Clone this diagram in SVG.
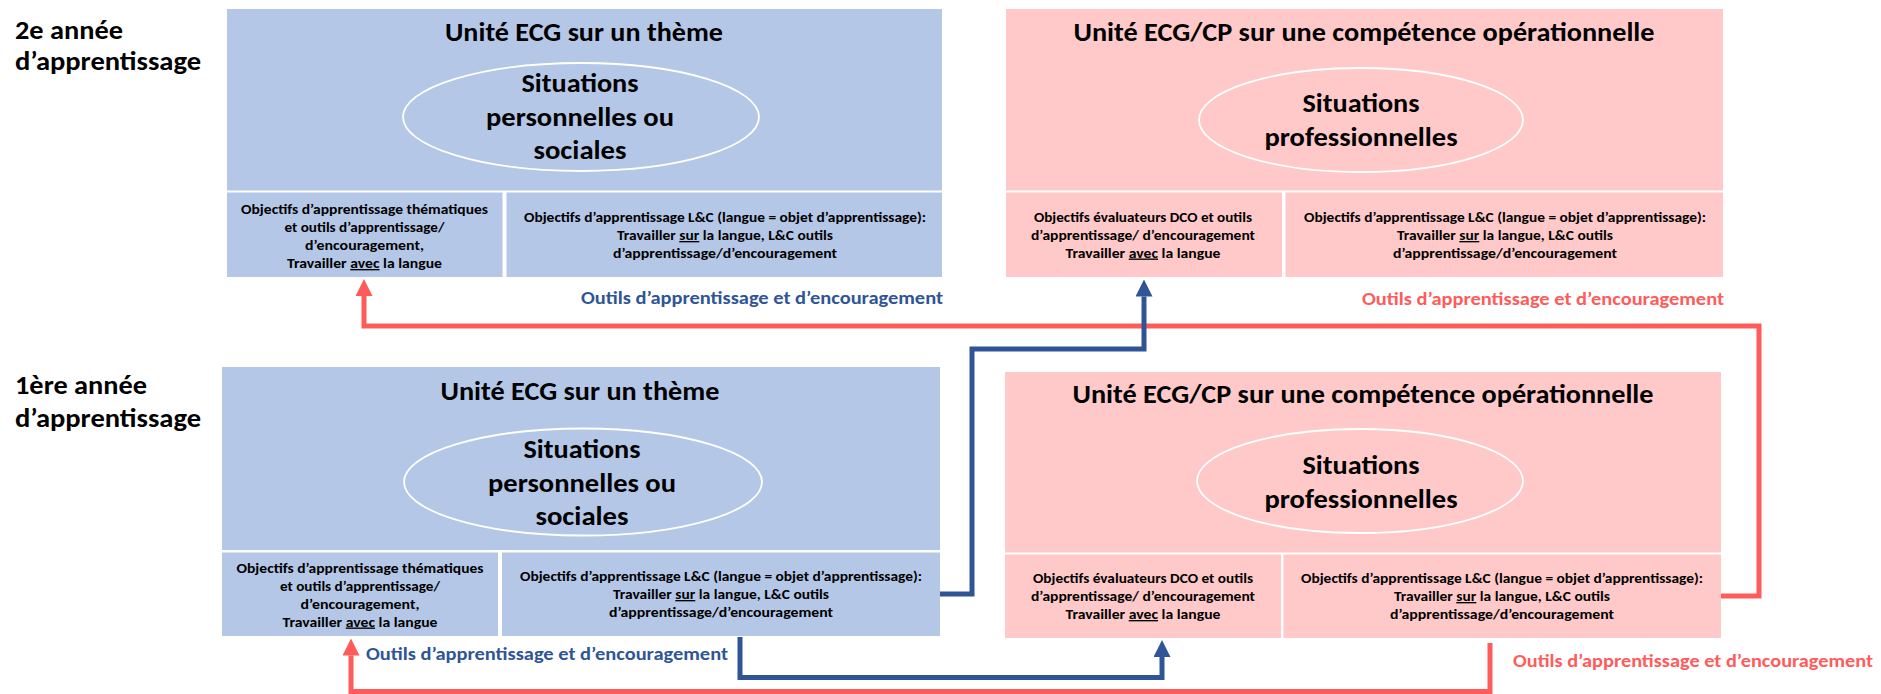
<svg xmlns="http://www.w3.org/2000/svg" width="1881" height="694" viewBox="0 0 1881 694">
<defs>
<style>
.t{font-family:Carlito,Lato,"Liberation Sans",sans-serif;font-weight:700;text-anchor:middle;fill:#000}
.big{font-size:26px}
.s{font-size:13.5px}
.side{font-size:26px;text-anchor:start}
.lab{font-size:18.5px;text-anchor:start}
.lb{fill:#2F5597}
.lr{fill:#FF5B5B}
.bf{fill:#B4C7E7}
.rf{fill:#FFC9C9}
.el{fill:none;stroke:#FFFFFF;stroke-width:1.8}
.u{text-decoration:underline}
.cb{fill:none;stroke:#2F5597;stroke-width:5;stroke-linejoin:miter}
.cr{fill:none;stroke:#FF5B5B;stroke-width:5;stroke-linejoin:miter}
</style>
<marker id="arrB" markerUnits="userSpaceOnUse" markerWidth="17" markerHeight="17" viewBox="0 0 17 17" refX="0" refY="8.5" orient="auto"><path d="M0,0 L17,8.5 L0,17 Z" fill="#2F5597"/></marker>
<marker id="arrR" markerUnits="userSpaceOnUse" markerWidth="17" markerHeight="17" viewBox="0 0 17 17" refX="0" refY="8.5" orient="auto"><path d="M0,0 L17,8.5 L0,17 Z" fill="#FF5B5B"/></marker>
</defs>
<rect width="1881" height="694" fill="#FFFFFF"/>

<g id="label-year2">
<text class="t side" x="15" y="39" textLength="108" lengthAdjust="spacingAndGlyphs">2e année</text>
<text class="t side" x="15" y="70" textLength="186" lengthAdjust="spacingAndGlyphs">d’apprentissage</text>
</g>
<g id="label-year1">
<text class="t side" x="15" y="394" textLength="132" lengthAdjust="spacingAndGlyphs">1ère année</text>
<text class="t side" x="15" y="427" textLength="186" lengthAdjust="spacingAndGlyphs">d’apprentissage</text>
</g>

<g id="unit-ecg-y2">
<rect class="bf" x="227" y="9" width="715" height="181.5"/>
<text class="t big" x="584" y="41" textLength="278" lengthAdjust="spacingAndGlyphs">Unité ECG sur un thème</text>
<ellipse class="el" cx="581" cy="117" rx="178" ry="54"/>
<text class="t big" x="580" y="91.5" textLength="117" lengthAdjust="spacingAndGlyphs">Situations</text>
<text class="t big" x="580" y="125.5" textLength="188" lengthAdjust="spacingAndGlyphs">personnelles ou</text>
<text class="t big" x="580" y="159" textLength="93" lengthAdjust="spacingAndGlyphs">sociales</text>
<rect class="bf" x="227" y="192.5" width="275.5" height="84.5"/>
<text class="t s" x="364.5" y="214" textLength="247" lengthAdjust="spacingAndGlyphs">Objectifs d’apprentissage thématiques</text>
<text class="t s" x="364.5" y="232" textLength="160" lengthAdjust="spacingAndGlyphs">et outils d’apprentissage/</text>
<text class="t s" x="364.5" y="250" textLength="119" lengthAdjust="spacingAndGlyphs">d’encouragement,</text>
<text class="t s" x="364.5" y="268" textLength="155" lengthAdjust="spacingAndGlyphs">Travailler <tspan class="u">avec</tspan> la langue</text>
<rect class="bf" x="506.5" y="192.5" width="435.5" height="84.5"/>
<text class="t s" x="725" y="222" textLength="402" lengthAdjust="spacingAndGlyphs">Objectifs d’apprentissage L&amp;C (langue = objet d’apprentissage):</text>
<text class="t s" x="725" y="240" textLength="216" lengthAdjust="spacingAndGlyphs">Travailler <tspan class="u">sur</tspan> la langue, L&amp;C outils</text>
<text class="t s" x="725" y="258" textLength="224" lengthAdjust="spacingAndGlyphs">d’apprentissage/d’encouragement</text>
</g>

<g id="unit-cp-y2">
<rect class="rf" x="1006" y="9" width="717" height="181.5"/>
<text class="t big" x="1364" y="41" textLength="581" lengthAdjust="spacingAndGlyphs">Unité ECG/CP sur une compétence opérationnelle</text>
<ellipse class="el" cx="1361" cy="120" rx="162" ry="52"/>
<text class="t big" x="1361" y="111.5" textLength="117" lengthAdjust="spacingAndGlyphs">Situations</text>
<text class="t big" x="1361" y="145.5" textLength="193" lengthAdjust="spacingAndGlyphs">professionnelles</text>
<rect class="rf" x="1006" y="192.5" width="276" height="84.5"/>
<text class="t s" x="1143" y="221.5" textLength="218" lengthAdjust="spacingAndGlyphs">Objectifs évaluateurs DCO et outils</text>
<text class="t s" x="1143" y="239.5" textLength="224" lengthAdjust="spacingAndGlyphs">d’apprentissage/ d’encouragement</text>
<text class="t s" x="1143" y="257.5" textLength="155" lengthAdjust="spacingAndGlyphs">Travailler <tspan class="u">avec</tspan> la langue</text>
<rect class="rf" x="1285.5" y="192.5" width="437.5" height="84.5"/>
<text class="t s" x="1505" y="222" textLength="402" lengthAdjust="spacingAndGlyphs">Objectifs d’apprentissage L&amp;C (langue = objet d’apprentissage):</text>
<text class="t s" x="1505" y="240" textLength="216" lengthAdjust="spacingAndGlyphs">Travailler <tspan class="u">sur</tspan> la langue, L&amp;C outils</text>
<text class="t s" x="1505" y="258" textLength="224" lengthAdjust="spacingAndGlyphs">d’apprentissage/d’encouragement</text>
</g>

<g id="unit-ecg-y1">
<rect class="bf" x="222" y="367" width="718" height="183"/>
<text class="t big" x="580" y="400" textLength="279" lengthAdjust="spacingAndGlyphs">Unité ECG sur un thème</text>
<ellipse class="el" cx="583" cy="482" rx="179" ry="53.5"/>
<text class="t big" x="582" y="457.5" textLength="117" lengthAdjust="spacingAndGlyphs">Situations</text>
<text class="t big" x="582" y="491.5" textLength="188" lengthAdjust="spacingAndGlyphs">personnelles ou</text>
<text class="t big" x="582" y="525" textLength="93" lengthAdjust="spacingAndGlyphs">sociales</text>
<rect class="bf" x="222" y="552.5" width="276" height="83.5"/>
<text class="t s" x="360" y="572.5" textLength="247" lengthAdjust="spacingAndGlyphs">Objectifs d’apprentissage thématiques</text>
<text class="t s" x="360" y="590.5" textLength="160" lengthAdjust="spacingAndGlyphs">et outils d’apprentissage/</text>
<text class="t s" x="360" y="608.5" textLength="119" lengthAdjust="spacingAndGlyphs">d’encouragement,</text>
<text class="t s" x="360" y="626.5" textLength="155" lengthAdjust="spacingAndGlyphs">Travailler <tspan class="u">avec</tspan> la langue</text>
<rect class="bf" x="502" y="552.5" width="438" height="83.5"/>
<text class="t s" x="721" y="581" textLength="402" lengthAdjust="spacingAndGlyphs">Objectifs d’apprentissage L&amp;C (langue = objet d’apprentissage):</text>
<text class="t s" x="721" y="599" textLength="216" lengthAdjust="spacingAndGlyphs">Travailler <tspan class="u">sur</tspan> la langue, L&amp;C outils</text>
<text class="t s" x="721" y="617" textLength="224" lengthAdjust="spacingAndGlyphs">d’apprentissage/d’encouragement</text>
</g>

<g id="unit-cp-y1">
<rect class="rf" x="1005" y="372" width="716" height="180.5"/>
<text class="t big" x="1363" y="403" textLength="581" lengthAdjust="spacingAndGlyphs">Unité ECG/CP sur une compétence opérationnelle</text>
<ellipse class="el" cx="1360" cy="481" rx="163" ry="52"/>
<text class="t big" x="1361" y="473.5" textLength="117" lengthAdjust="spacingAndGlyphs">Situations</text>
<text class="t big" x="1361" y="507.5" textLength="193" lengthAdjust="spacingAndGlyphs">professionnelles</text>
<rect class="rf" x="1005" y="554.5" width="276" height="83.5"/>
<text class="t s" x="1143" y="583" textLength="220" lengthAdjust="spacingAndGlyphs">Objectifs évaluateurs DCO et outils</text>
<text class="t s" x="1143" y="601" textLength="224" lengthAdjust="spacingAndGlyphs">d’apprentissage/ d’encouragement</text>
<text class="t s" x="1143" y="619" textLength="155" lengthAdjust="spacingAndGlyphs">Travailler <tspan class="u">avec</tspan> la langue</text>
<rect class="rf" x="1283.5" y="554.5" width="437.5" height="83.5"/>
<text class="t s" x="1502" y="583" textLength="402" lengthAdjust="spacingAndGlyphs">Objectifs d’apprentissage L&amp;C (langue = objet d’apprentissage):</text>
<text class="t s" x="1502" y="601" textLength="216" lengthAdjust="spacingAndGlyphs">Travailler <tspan class="u">sur</tspan> la langue, L&amp;C outils</text>
<text class="t s" x="1502" y="619" textLength="224" lengthAdjust="spacingAndGlyphs">d’apprentissage/d’encouragement</text>
</g>

<g id="connectors">
<path class="cr" d="M1721,596 H1759 V326 H364 V296" marker-end="url(#arrR)"/>
<path class="cr" d="M1490,643 V691.5 H351 V655.5" marker-end="url(#arrR)"/>
<path class="cb" d="M940,594 H972 V349 H1144 V296.5" marker-end="url(#arrB)"/>
<path class="cb" d="M740,637 V677.5 H1162 V657" marker-end="url(#arrB)"/>
<text class="t lab lb" x="581" y="303.5" textLength="362" lengthAdjust="spacingAndGlyphs">Outils d’apprentissage et d’encouragement</text>
<text class="t lab lr" x="1362" y="304.5" textLength="362" lengthAdjust="spacingAndGlyphs">Outils d’apprentissage et d’encouragement</text>
<text class="t lab lb" x="366" y="660" textLength="362" lengthAdjust="spacingAndGlyphs">Outils d’apprentissage et d’encouragement</text>
<text class="t lab lr" x="1513" y="667" textLength="360" lengthAdjust="spacingAndGlyphs">Outils d’apprentissage et d’encouragement</text>
</g>
</svg>
